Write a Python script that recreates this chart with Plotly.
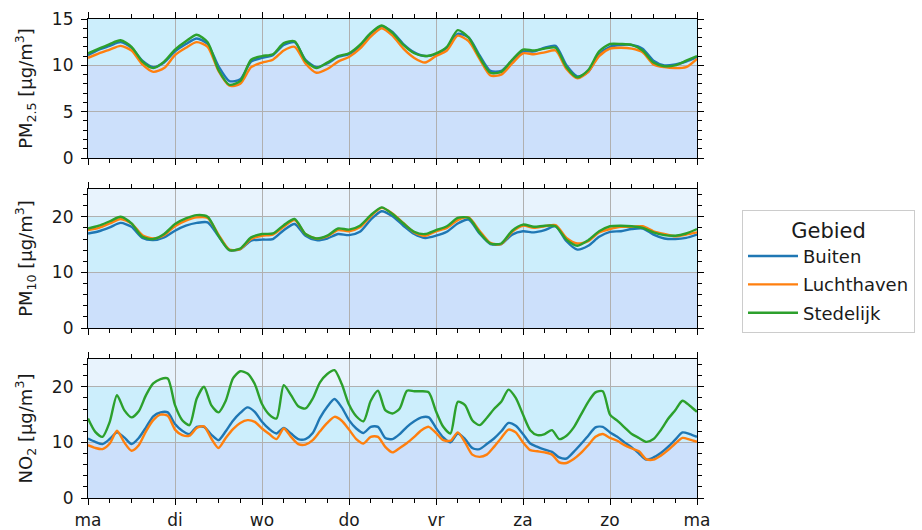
import plotly.graph_objects as go

# ---------------- data ----------------
day_labels = ["ma", "di", "wo", "do", "vr", "za", "zo", "ma"]
day_hours = [0, 24, 48, 72, 96, 120, 144, 168]
series_names = ["Buiten", "Luchthaven", "Stedelijk"]
series_colors = ["#1f77b4", "#ff7f0e", "#2ca02c"]

hours_pm = list(range(0, 169, 3))
hours_no2 = list(range(0, 169, 2))

pm25_buiten = [11.1,11.7,12.1,12.5,11.9,10.5,9.8,10.3,11.5,12.3,12.9,12.3,9.9,8.3,8.5,10.4,10.8,11.1,12.2,12.5,10.6,9.8,10.2,10.9,11.2,12.0,13.4,14.2,13.6,12.3,11.4,11.0,11.2,11.9,13.4,13.0,11.1,9.4,9.4,10.5,11.5,11.5,11.9,12.1,10.0,8.8,9.3,11.2,12.0,12.2,12.2,11.8,10.5,10.0,10.1,10.4,10.9]
pm25_luchthaven = [10.8,11.3,11.7,12.1,11.6,10.1,9.3,9.7,11.1,11.9,12.5,12.0,9.4,7.8,8.0,9.8,10.3,10.6,11.6,12.0,10.2,9.2,9.6,10.4,10.9,11.8,13.1,14.0,13.2,11.8,10.8,10.3,11.0,11.6,13.2,12.6,10.7,8.9,9.0,10.2,11.3,11.2,11.4,11.6,9.6,8.6,9.3,11.0,11.8,11.9,11.8,11.4,10.1,9.8,9.7,9.8,10.7]
pm25_stedelijk = [11.3,11.8,12.3,12.7,12.0,10.4,9.7,10.4,11.7,12.6,13.3,12.5,9.5,7.9,8.3,10.6,11.0,11.2,12.4,12.6,10.5,9.7,10.3,11.0,11.3,12.2,13.5,14.3,13.5,12.2,11.3,11.0,11.3,12.0,13.8,13.0,10.9,9.2,9.3,10.6,11.7,11.6,11.8,11.9,9.8,8.7,9.5,11.5,12.3,12.3,12.2,11.6,10.3,9.9,10.0,10.5,11.0]

pm10_buiten = [17.0,17.4,18.1,18.9,18.2,16.2,15.8,16.3,17.5,18.4,18.9,19.0,16.5,14.0,14.2,15.7,15.9,16.0,17.6,18.7,16.6,15.8,16.1,16.9,16.7,17.3,19.5,21.0,20.1,18.4,16.9,16.2,16.6,17.3,18.8,19.5,17.0,15.1,15.1,16.8,17.4,17.2,17.6,18.3,15.6,14.1,14.8,16.4,17.3,17.4,17.8,17.9,16.8,16.1,16.0,16.2,16.8]
pm10_luchthaven = [17.6,18.0,18.8,19.6,18.8,16.7,16.1,16.7,18.3,19.3,19.9,19.8,16.8,14.1,14.2,16.0,16.6,16.8,18.2,19.4,16.9,16.1,16.5,17.6,17.4,18.1,20.1,21.6,20.6,18.9,17.2,16.6,17.4,18.0,19.4,19.9,17.5,15.3,15.1,17.3,18.4,18.0,18.3,18.5,16.2,15.2,15.6,17.2,17.8,18.2,18.2,18.3,17.4,16.9,16.5,16.8,17.2]
pm10_stedelijk = [17.9,18.4,19.2,20.0,18.8,16.4,16.0,16.9,18.7,19.7,20.3,20.0,16.6,14.0,14.3,16.3,16.9,17.0,18.5,19.6,16.9,16.1,16.6,17.9,17.7,18.4,20.3,21.7,20.5,18.8,17.3,16.9,17.6,18.3,19.8,19.8,17.2,15.2,15.2,17.5,18.6,18.2,18.4,18.3,15.9,14.8,15.8,17.4,18.3,18.4,18.3,18.0,17.2,16.7,16.6,17.0,17.8]

no2_buiten = [10.7,10.1,9.7,10.6,11.8,10.9,9.7,10.8,12.7,14.7,15.4,15.4,13.3,12.1,11.5,12.8,12.8,11.4,10.4,12.0,13.9,15.3,16.3,15.5,13.7,12.4,11.6,12.6,11.6,10.6,10.6,11.7,14.4,16.4,17.8,16.3,14.0,12.5,11.7,12.8,12.8,10.8,10.6,11.5,12.8,13.8,14.5,14.5,12.6,10.9,10.0,11.6,10.6,9.0,8.8,9.7,10.7,12.0,13.5,13.0,11.5,9.8,9.2,8.7,8.3,7.3,7.1,8.3,9.7,11.2,12.7,12.8,11.8,11.0,10.0,9.1,8.0,6.9,7.3,8.1,9.2,10.5,11.8,11.5,11.0]
no2_luchthaven = [9.5,9.0,8.8,9.8,12.1,10.0,8.5,9.5,12.0,14.0,15.0,14.8,12.3,11.3,11.2,12.6,12.9,10.7,9.0,10.8,12.4,13.5,14.0,13.7,12.5,11.5,10.6,12.5,11.0,9.7,9.6,10.4,12.0,13.5,14.6,13.9,12.3,10.6,9.8,11.0,11.0,9.2,8.2,9.0,9.9,11.0,12.2,12.8,11.7,10.4,10.3,11.8,10.0,7.8,7.4,7.8,9.2,10.8,12.3,11.8,10.0,8.6,8.4,8.2,7.8,6.4,6.3,7.0,8.1,9.5,11.0,11.5,10.8,10.3,9.5,8.9,8.4,7.0,6.9,7.6,8.6,9.8,10.8,10.5,10.1]
no2_stedelijk = [14.3,11.9,11.0,13.7,18.5,15.8,14.5,15.6,18.5,20.6,21.4,21.5,16.7,14.0,13.1,17.9,20.0,16.7,15.4,17.5,21.5,22.8,22.4,20.5,16.9,15.0,14.3,20.3,18.5,16.5,16.1,17.9,20.8,22.3,23.0,20.5,16.8,14.7,13.8,17.5,19.3,15.8,15.2,16.1,19.3,19.2,19.2,19.0,15.6,12.8,11.6,17.3,16.7,14.0,13.1,14.4,16.0,17.3,19.5,18.0,15.0,12.2,11.3,11.5,12.2,10.6,11.2,12.7,15.0,17.3,19.0,19.2,15.0,13.9,12.7,11.5,10.8,10.1,10.6,12.2,14.2,15.8,17.5,16.6,15.5]

panels = [
    dict(hours=hours_pm, data=[pm25_buiten, pm25_luchthaven, pm25_stedelijk],
         title="PM<sub>2.5</sub> [µg/m<sup>3</sup>]", ymax=15, major=[0, 5, 10, 15], minor=1,
         bands=[(0, 10, "#cce0fb"), (10, 15, "#cceefc")]),
    dict(hours=hours_pm, data=[pm10_buiten, pm10_luchthaven, pm10_stedelijk],
         title="PM<sub>10</sub> [µg/m<sup>3</sup>]", ymax=25, major=[0, 10, 20], minor=2,
         bands=[(0, 10, "#cce0fb"), (10, 20, "#cceefc"), (20, 25, "#e8f3fd")]),
    dict(hours=hours_no2, data=[no2_buiten, no2_luchthaven, no2_stedelijk],
         title="NO<sub>2</sub> [µg/m<sup>3</sup>]", ymax=25, major=[0, 10, 20], minor=2,
         bands=[(0, 10, "#cce0fb"), (10, 20, "#cceefc"), (20, 25, "#e8f3fd")]),
]

# ---------------- layout geometry ----------------
W, H = 922, 530
ml, mr, mt, mb = 88, 225, 19, 32
ph = H - mt - mb
panel_px = [(19, 158), (189, 328), (359, 498)]
domains = [[(H - mb - b) / ph, (H - mb - t) / ph] for (t, b) in panel_px]
domains[0][1] = 1.0
domains[2][0] = 0.0

fig = go.Figure()
font_family = "DejaVu Sans, Verdana, sans-serif"
txt_color = "#1a1a1a"
tick_font = dict(family=font_family, size=17, color=txt_color)

layout = dict(
    width=W, height=H,
    margin=dict(l=ml, r=mr, t=mt, b=mb, autoexpand=False),
    paper_bgcolor="white", plot_bgcolor="white",
    font=dict(family=font_family, size=17, color=txt_color),
    showlegend=True,
    legend=dict(
        xref="container", yref="container",
        x=742 / W, xanchor="left",
        y=1 - 271 / H, yanchor="middle",
        bordercolor="#cccccc", borderwidth=1, bgcolor="white",
        font=dict(family=font_family, size=18, color=txt_color),
        title=dict(text="Gebied", side="top center",
                   font=dict(family=font_family, size=21, color=txt_color)),
        tracegroupgap=2, itemwidth=50,
    ),
    shapes=[],
)

for i, p in enumerate(panels):
    n = "" if i == 0 else str(i + 1)
    xa = "x" + n
    ya = "y" + n
    for j, (name, color) in enumerate(zip(series_names, series_colors)):
        fig.add_trace(go.Scatter(
            x=p["hours"], y=p["data"][j], mode="lines", name=name,
            line=dict(color=color, width=2.4, shape="spline", smoothing=0.7),
            xaxis=xa, yaxis=ya,
            showlegend=(i == 0), legendgroup=name,
        ))
    for (y0, y1, c) in p["bands"]:
        layout["shapes"].append(dict(
            type="rect", xref=xa, yref=ya, x0=0, x1=168, y0=y0, y1=y1,
            fillcolor=c, line=dict(width=0), layer="below"))
    layout["xaxis" + n] = dict(
        domain=[0, 1], anchor=ya, range=[0, 168], automargin=False,
        tickmode="array", tickvals=day_hours, ticktext=day_labels,
        showticklabels=(i == 2), ticks="outside", ticklen=6, tickwidth=1.2,
        tickcolor="black", showline=True, linecolor="black", linewidth=1.2,
        mirror="allticks", showgrid=True, gridcolor="#b0b0b0", gridwidth=1,
        zeroline=False, tickfont=tick_font, fixedrange=True, ticklabelstandoff=0,
        minor=dict(tickmode="array", tickvals=list(range(0, 169, 6)),
                   ticks="outside", ticklen=3.5, tickwidth=1, tickcolor="black",
                   showgrid=False),
        matches=None if i == 0 else "x",
    )
    layout["yaxis" + n] = dict(
        domain=domains[i], anchor=xa, range=[0, p["ymax"]], automargin=False,
        tickmode="array", tickvals=p["major"],
        ticks="outside", ticklen=6, tickwidth=1.2, tickcolor="black",
        showline=True, linecolor="black", linewidth=1.2, mirror="allticks",
        showgrid=True, gridcolor="#b0b0b0", gridwidth=1, zeroline=False,
        tickfont=tick_font, fixedrange=True, ticklabelstandoff=4,
        minor=dict(tickmode="linear", tick0=0, dtick=p["minor"], ticks="outside",
                   ticklen=3.5, tickwidth=1, tickcolor="black", showgrid=False),
        title=dict(text=p["title"], standoff=14,
                   font=dict(family=font_family, size=18, color=txt_color)),
    )

fig.update_layout(**layout)
fig.write_html("out.html")
